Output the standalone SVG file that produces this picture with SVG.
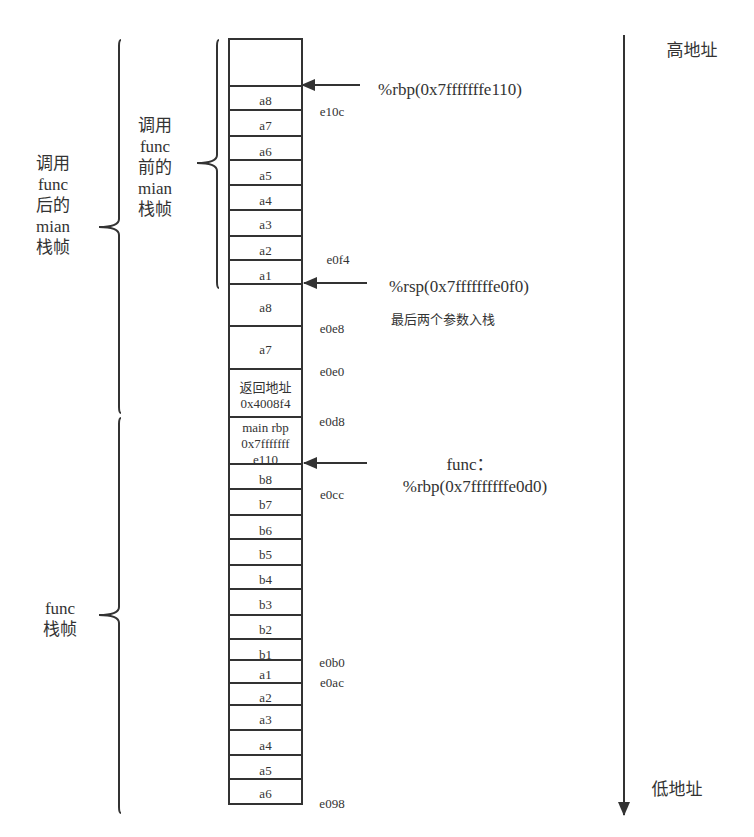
<svg xmlns="http://www.w3.org/2000/svg" width="754" height="837" viewBox="0 0 754 837">
<defs>
<style>
.c{fill:#fff;stroke:#333;stroke-width:2}
.t{font-family:"Liberation Serif","Noto Sans CJK SC",serif;font-size:13px;fill:#333;text-anchor:middle}
.a{font-family:"Liberation Serif","Noto Sans CJK SC",serif;font-size:13px;fill:#333;text-anchor:middle}
.l{font-family:"Liberation Serif","Noto Sans CJK SC",serif;font-size:17px;fill:#333;text-anchor:middle}
.br{fill:none;stroke:#333;stroke-width:2}
.ln{stroke:#333;stroke-width:2;fill:none}
</style>
<marker id="ah" markerWidth="10" markerHeight="10" refX="9" refY="5" orient="auto" markerUnits="userSpaceOnUse" viewBox="0 0 10 10">
<path d="M0,0 L10,5 L0,10 z" fill="#333"/>
</marker>
<marker id="ah2" markerWidth="14" markerHeight="12" refX="13" refY="6" orient="auto" markerUnits="userSpaceOnUse" viewBox="0 0 14 12">
<path d="M0,0 L14,6 L0,12 z" fill="#333"/>
</marker>
</defs>
<rect width="754" height="837" fill="#fff"/>

<g id="stack">
<rect class="c" x="229" y="39" width="73" height="47"/>
<g id="r1"><rect class="c" x="229" y="86" width="73" height="24"/><text class="t" x="265.5" y="104.5">a8</text></g>
<g id="r2"><rect class="c" x="229" y="110" width="73" height="26"/><text class="t" x="265.5" y="129.5">a7</text></g>
<g id="r3"><rect class="c" x="229" y="136" width="73" height="24"/><text class="t" x="265.5" y="155.5">a6</text></g>
<g id="r4"><rect class="c" x="229" y="160" width="73" height="25"/><text class="t" x="265.5" y="179.5">a5</text></g>
<g id="r5"><rect class="c" x="229" y="185" width="73" height="25"/><text class="t" x="265.5" y="204.5">a4</text></g>
<g id="r6"><rect class="c" x="229" y="210" width="73" height="26"/><text class="t" x="265.5" y="228.5">a3</text></g>
<g id="r7"><rect class="c" x="229" y="236" width="73" height="24"/><text class="t" x="265.5" y="254.5">a2</text></g>
<g id="r8"><rect class="c" x="229" y="260" width="73" height="24"/><text class="t" x="265.5" y="279.5">a1</text></g>
<g id="r9"><rect class="c" x="229" y="284" width="73" height="42"/><text class="t" x="265.5" y="311.5">a8</text></g>
<g id="r10"><rect class="c" x="229" y="326" width="73" height="43"/><text class="t" x="265.5" y="353.5">a7</text></g>
<g id="r11"><rect class="c" x="229" y="369" width="73" height="48"/><text class="t" x="265.5" y="391.5">返回地址</text><text class="t" x="265.5" y="407.5">0x4008f4</text></g>
<g id="r12"><rect class="c" x="229" y="417" width="73" height="47"/><text class="t" x="265.5" y="431.5">main rbp</text><text class="t" x="265.5" y="447.5">0x7fffffff</text><text class="t" x="265.5" y="463.5">e110</text></g>
<g id="r13"><rect class="c" x="229" y="464" width="73" height="25"/><text class="t" x="265.5" y="483.5">b8</text></g>
<g id="r14"><rect class="c" x="229" y="489" width="73" height="26"/><text class="t" x="265.5" y="508.5">b7</text></g>
<g id="r15"><rect class="c" x="229" y="515" width="73" height="24"/><text class="t" x="265.5" y="534.5">b6</text></g>
<g id="r16"><rect class="c" x="229" y="539" width="73" height="26"/><text class="t" x="265.5" y="558.5">b5</text></g>
<g id="r17"><rect class="c" x="229" y="565" width="73" height="24"/><text class="t" x="265.5" y="583.5">b4</text></g>
<g id="r18"><rect class="c" x="229" y="589" width="73" height="26"/><text class="t" x="265.5" y="608.5">b3</text></g>
<g id="r19"><rect class="c" x="229" y="615" width="73" height="24"/><text class="t" x="265.5" y="633.5">b2</text></g>
<g id="r20"><rect class="c" x="229" y="639" width="73" height="21"/><text class="t" x="265.5" y="658.5">b1</text></g>
<g id="r21"><rect class="c" x="229" y="660" width="73" height="23"/><text class="t" x="265.5" y="678.5">a1</text></g>
<g id="r22"><rect class="c" x="229" y="683" width="73" height="22"/><text class="t" x="265.5" y="701.5">a2</text></g>
<g id="r23"><rect class="c" x="229" y="705" width="73" height="25"/><text class="t" x="265.5" y="723.5">a3</text></g>
<g id="r24"><rect class="c" x="229" y="730" width="73" height="25"/><text class="t" x="265.5" y="749.5">a4</text></g>
<g id="r25"><rect class="c" x="229" y="755" width="73" height="24"/><text class="t" x="265.5" y="774.5">a5</text></g>
<g id="r26"><rect class="c" x="229" y="779" width="73" height="25"/><text class="t" x="265.5" y="797.5">a6</text></g>
</g>

<g id="addresses">
<text class="a" x="332" y="115.5">e10c</text>
<text class="a" x="338" y="263.5">e0f4</text>
<text class="a" x="332" y="332.5">e0e8</text>
<text class="a" x="332" y="375.5">e0e0</text>
<text class="a" x="332" y="425.5">e0d8</text>
<text class="a" x="332" y="498.5">e0cc</text>
<text class="a" x="332" y="666.5">e0b0</text>
<text class="a" x="332" y="686.5">e0ac</text>
<text class="a" x="332" y="807.5">e098</text>
</g>

<g id="braces">
<path class="br" d="M219,40 Q217,40 217,46 L217,155 Q217,163 197,163 Q217,163 217,171 L217,282 Q217,288 219,288"/>
<path class="br" d="M121,40 Q119,40 119,46 L119,219 Q119,227 99,227 Q119,227 119,235 L119,407 Q119,413 121,413"/>
<path class="br" d="M121,418 Q119,418 119,424 L119,607 Q119,615 99,615 Q119,615 119,623 L119,807 Q119,813 121,813"/>
</g>

<g id="labels">
<g id="lbl-before"><text class="l" x="155" y="131">调用</text><text class="l" x="155" y="152">func</text><text class="l" x="155" y="173">前的</text><text class="l" x="155" y="194">mian</text><text class="l" x="155" y="215">栈帧</text></g>
<g id="lbl-after"><text class="l" x="53" y="169">调用</text><text class="l" x="53" y="190">func</text><text class="l" x="53" y="211">后的</text><text class="l" x="53" y="232">mian</text><text class="l" x="53" y="253">栈帧</text></g>
<g id="lbl-func"><text class="l" x="60" y="614">func</text><text class="l" x="60" y="635">栈帧</text></g>
<text class="l" x="450" y="95">%rbp(0x7fffffffe110)</text>
<text class="l" x="459" y="292">%rsp(0x7fffffffe0f0)</text>
<text class="a" x="443" y="324">最后两个参数入栈</text>
<text class="l" x="470" y="470">func：</text>
<text class="l" x="475" y="492">%rbp(0x7fffffffe0d0)</text>
<text class="l" x="692" y="56">高地址</text>
<text class="l" x="677" y="795">低地址</text>
</g>

<g id="connectors">
<line class="ln" x1="360" y1="85" x2="302" y2="85" marker-end="url(#ah2)"/>
<line class="ln" x1="367" y1="283" x2="304" y2="283" marker-end="url(#ah2)"/>
<line class="ln" x1="367" y1="463" x2="304" y2="463" marker-end="url(#ah2)"/>
<line class="ln" x1="624" y1="35" x2="624" y2="815" marker-end="url(#ah2)"/>
</g>
</svg>
